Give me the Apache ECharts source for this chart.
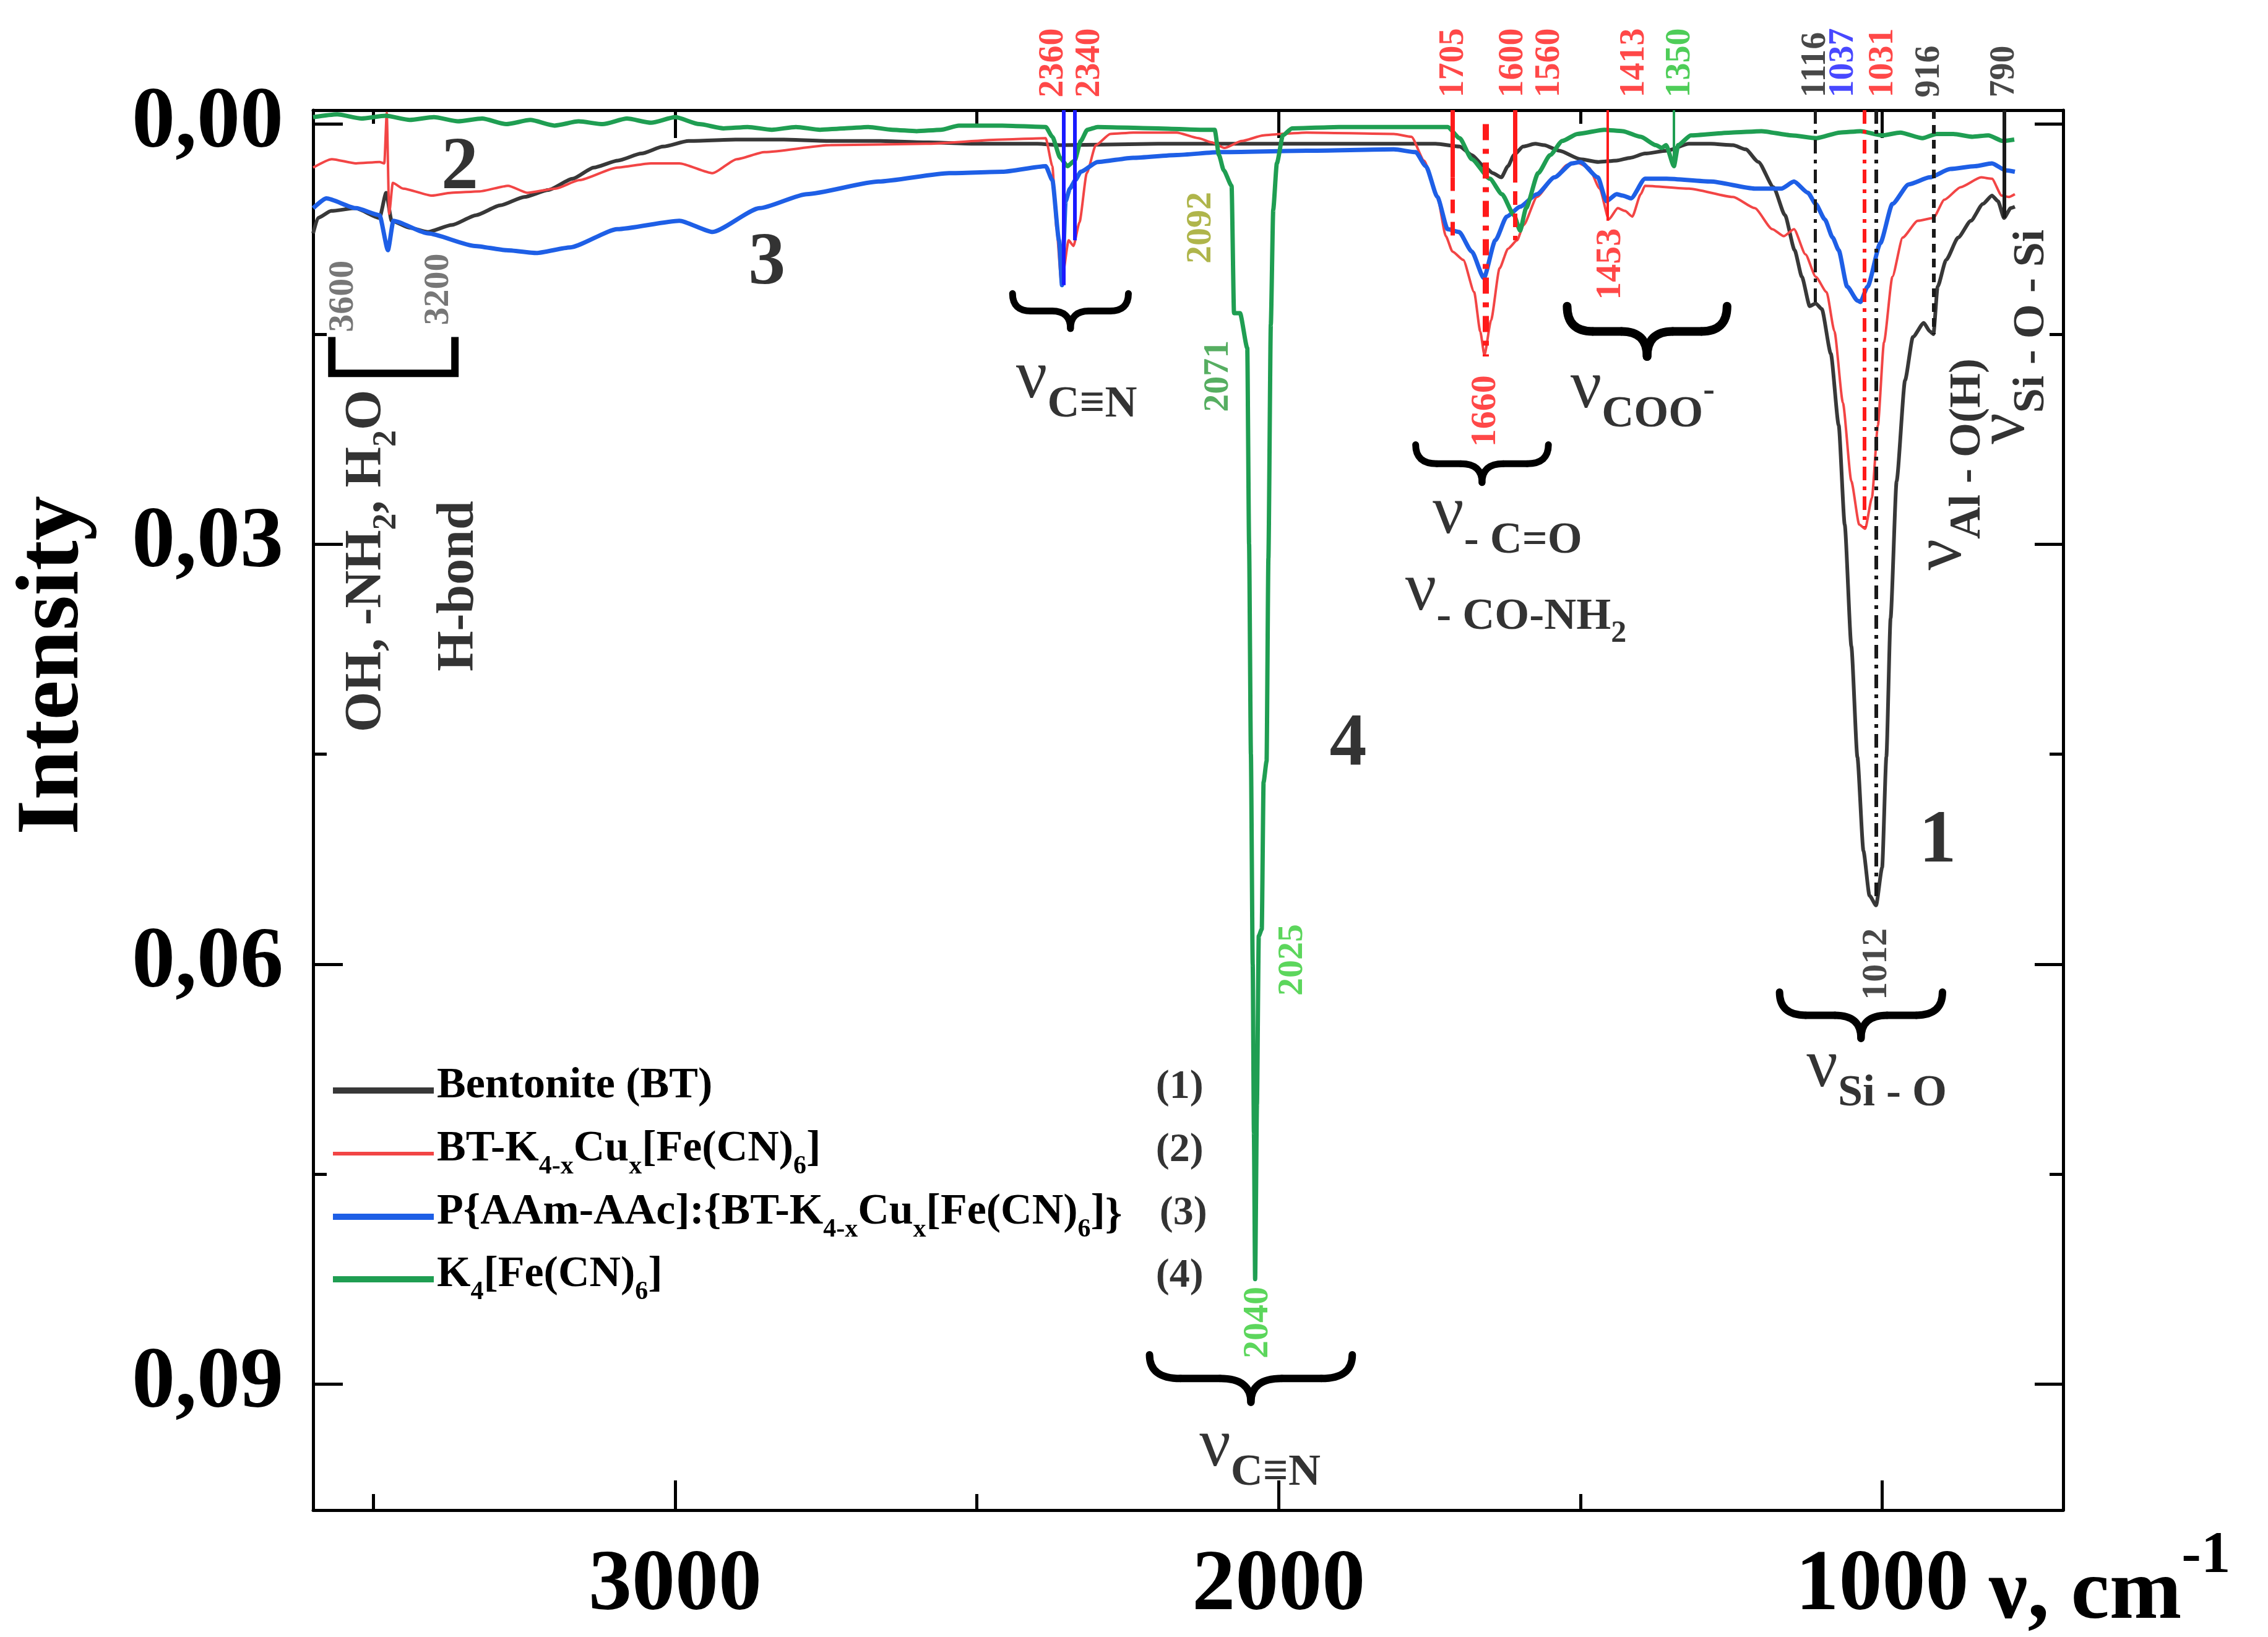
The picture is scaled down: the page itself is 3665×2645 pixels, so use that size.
<!DOCTYPE html>
<html>
<head>
<meta charset="utf-8">
<script src="https://cdn.jsdelivr.net/npm/echarts@6/dist/echarts.min.js"></script>
<style>
html, body { margin: 0; padding: 0; background: #fff; }
#chart { width: 3665px; height: 2645px; }
</style>
</head>
<body>
<div id="chart"></div>
<script>
var FONT = 'Liberation Serif';
var RED = '#ff1a1a', GREEN = '#22c12e', BLUE = '#1a1aff', DARK = '#1a1a1a';

// axis ticks
var waveMajor = [1000, 2000, 3000];
var waveMinor = [1500, 2500, 3500];
var intMajor = [0, 0.03, 0.06, 0.09];
var intMinor = [0.015, 0.045, 0.075];

var seriesNames = ['Bentonite (BT)', 'BT-K4-xCux[Fe(CN)6]', 'P{AAm-AAc]:{BT-K4-xCux[Fe(CN)6]}', 'K4[Fe(CN)6]'];
var seriesColors = ['#383838', '#f24545', '#1e5fe6', '#1f9e52'];
var seriesWidths = [6, 4, 7, 7];

// spectra: [wavenumber, intensity]
var bentonite = [
  [3600, 0.0078], [3592, 0.0067], [3570, 0.0062], [3530, 0.0060], [3490, 0.0067], [3479, 0.0049], [3470, 0.0069],
  [3440, 0.0074], [3410, 0.0077], [3370, 0.0072], [3330, 0.0065], [3290, 0.0058], [3250, 0.0052], [3210, 0.0047],
  [3170, 0.0039], [3135, 0.0031], [3095, 0.0026], [3056, 0.0021], [3020, 0.0016], [2978, 0.0012], [2900, 0.0011],
  [2820, 0.0011], [2740, 0.0012], [2660, 0.0012], [2580, 0.0013], [2500, 0.0014], [2400, 0.0014], [2360, 0.0015],
  [2200, 0.0014], [2100, 0.0014], [2000, 0.0014], [1900, 0.0014], [1800, 0.0014], [1740, 0.0014], [1700, 0.0016],
  [1680, 0.0022], [1660, 0.0030], [1645, 0.0035], [1631, 0.0038], [1620, 0.0030], [1610, 0.0022], [1595, 0.0016],
  [1575, 0.0014], [1560, 0.0015], [1535, 0.0019], [1500, 0.0025], [1470, 0.0027], [1440, 0.0026], [1417, 0.0024],
  [1393, 0.0021], [1357, 0.0019], [1320, 0.0014], [1284, 0.0014], [1247, 0.0015], [1226, 0.0018], [1205, 0.0027],
  [1180, 0.0045], [1161, 0.0065], [1145, 0.0090], [1133, 0.0109], [1120, 0.0130], [1110, 0.0128], [1100, 0.0132],
  [1085, 0.0164], [1072, 0.0215], [1062, 0.0286], [1051, 0.0373], [1041, 0.0452], [1031, 0.0519], [1021, 0.0551],
  [1010, 0.0558], [1000, 0.0531], [993, 0.0452], [986, 0.0353], [976, 0.0255], [962, 0.0183], [949, 0.0152],
  [931, 0.0142], [921, 0.0148], [915, 0.0150], [908, 0.0116], [894, 0.0097], [874, 0.0081], [853, 0.0069],
  [833, 0.0057], [818, 0.0051], [808, 0.0055], [798, 0.0067], [787, 0.0060], [780, 0.0059]
];
var btHexacyanoferrate = [
  [3600, 0.0031], [3569, 0.0025], [3529, 0.0028], [3490, 0.0027], [3482, 0.0028], [3478, -0.0008], [3474, 0.0064],
  [3468, 0.0042], [3451, 0.0046], [3403, 0.0051], [3371, 0.0049], [3324, 0.0048], [3277, 0.0044], [3245, 0.0049],
  [3198, 0.0046], [3159, 0.0040], [3096, 0.0031], [3040, 0.0028], [2993, 0.0028], [2938, 0.0035], [2898, 0.0025],
  [2852, 0.0020], [2743, 0.0015], [2585, 0.0014], [2458, 0.0011], [2386, 0.0010], [2375, 0.0030], [2368, 0.0075],
  [2360, 0.0114], [2348, 0.0083], [2340, 0.0087], [2330, 0.0070], [2318, 0.0035], [2303, 0.0015], [2279, 0.0007],
  [2241, 0.0006], [2169, 0.0006], [2133, 0.0010], [2111, 0.0013], [2090, 0.0017], [2061, 0.0012], [2025, 0.0008],
  [1997, 0.0007], [1954, 0.0006], [1809, 0.0007], [1780, 0.0009], [1759, 0.0026], [1737, 0.0052], [1723, 0.0080],
  [1712, 0.0091], [1694, 0.0097], [1676, 0.0120], [1666, 0.0148], [1659, 0.0165], [1648, 0.0140], [1634, 0.0103],
  [1620, 0.0089], [1605, 0.0083], [1594, 0.0072], [1572, 0.0052], [1543, 0.0038], [1522, 0.0029], [1507, 0.0027],
  [1486, 0.0031], [1468, 0.0046], [1453, 0.0068], [1438, 0.0060], [1426, 0.0062], [1414, 0.0066], [1400, 0.0050],
  [1393, 0.0044], [1320, 0.0046], [1247, 0.0052], [1211, 0.0060], [1182, 0.0075], [1163, 0.0080], [1146, 0.0075],
  [1127, 0.0093], [1110, 0.0109], [1092, 0.0120], [1079, 0.0148], [1065, 0.0199], [1051, 0.0255], [1038, 0.0286],
  [1028, 0.0289], [1017, 0.0267], [1007, 0.0215], [997, 0.0156], [983, 0.0109], [966, 0.0081], [941, 0.0069],
  [915, 0.0067], [897, 0.0054], [870, 0.0045], [836, 0.0038], [818, 0.0039], [802, 0.0051], [790, 0.0052], [780, 0.0050]
];
var hydrogelComposite = [
  [3600, 0.0060], [3578, 0.0053], [3529, 0.0060], [3490, 0.0065], [3476, 0.0090], [3467, 0.0069], [3410, 0.0078],
  [3332, 0.0087], [3280, 0.0090], [3230, 0.0092], [3174, 0.0088], [3096, 0.0075], [2993, 0.0069], [2938, 0.0077],
  [2860, 0.0060], [2782, 0.0050], [2663, 0.0041], [2546, 0.0035], [2458, 0.0034], [2386, 0.0030], [2375, 0.0040],
  [2364, 0.0083], [2359, 0.0115], [2353, 0.0055], [2346, 0.0046], [2337, 0.0040], [2328, 0.0034], [2300, 0.0027],
  [2241, 0.0024], [2169, 0.0022], [2097, 0.0020], [1954, 0.0019], [1809, 0.0018], [1773, 0.0020], [1756, 0.0030],
  [1737, 0.0052], [1720, 0.0075], [1701, 0.0077], [1680, 0.0091], [1660, 0.0110], [1641, 0.0083], [1622, 0.0066],
  [1600, 0.0059], [1572, 0.0050], [1543, 0.0038], [1514, 0.0028], [1500, 0.0027], [1471, 0.0038], [1457, 0.0055],
  [1440, 0.0050], [1430, 0.0051], [1416, 0.0053], [1393, 0.0039], [1357, 0.0039], [1284, 0.0041], [1211, 0.0046],
  [1167, 0.0046], [1146, 0.0041], [1123, 0.0049], [1110, 0.0057], [1095, 0.0068], [1082, 0.0081], [1072, 0.0090],
  [1058, 0.0116], [1041, 0.0126], [1036, 0.0127], [1024, 0.0116], [1003, 0.0085], [983, 0.0057], [956, 0.0043],
  [921, 0.0038], [887, 0.0032], [846, 0.0030], [818, 0.0028], [795, 0.0033], [780, 0.0034]
];
var potassiumFerrocyanide = [
  [3600, -0.0005], [3560, -0.0007], [3520, -0.0004], [3480, -0.0006], [3440, -0.0003], [3400, -0.0005], [3360, -0.0002],
  [3320, -0.0004], [3280, 0.0000], [3240, -0.0003], [3200, 0.0001], [3160, -0.0002], [3120, 0.0000], [3080, -0.0004],
  [3040, -0.0001], [3000, -0.0005], [2960, 0.0000], [2920, 0.0003], [2880, 0.0002], [2840, 0.0004], [2800, 0.0002],
  [2760, 0.0004], [2720, 0.0003], [2680, 0.0002], [2640, 0.0004], [2600, 0.0005], [2560, 0.0004], [2530, 0.0001],
  [2458, 0.0001], [2386, 0.0002], [2375, 0.0009], [2362, 0.0024], [2350, 0.0030], [2338, 0.0026], [2328, 0.0012],
  [2317, 0.0004], [2300, 0.0002], [2200, 0.0003], [2130, 0.0004], [2106, 0.0004], [2099, 0.0022], [2091, 0.0033],
  [2078, 0.0044], [2074, 0.0135], [2064, 0.0135], [2052, 0.0160], [2049, 0.0300], [2046, 0.0450], [2043, 0.0600],
  [2041, 0.0720], [2039, 0.0825], [2036, 0.0700], [2033, 0.0580], [2028, 0.0575], [2025, 0.0470], [2020, 0.0455],
  [2017, 0.0310], [2013, 0.0143], [2009, 0.0061], [2003, 0.0028], [1993, 0.0008], [1978, 0.0003], [1900, 0.0002],
  [1800, 0.0002], [1720, 0.0002], [1700, 0.0010], [1680, 0.0025], [1650, 0.0039], [1630, 0.0050], [1610, 0.0065],
  [1600, 0.0076], [1590, 0.0060], [1570, 0.0035], [1550, 0.0022], [1530, 0.0012], [1505, 0.0007], [1460, 0.0004],
  [1430, 0.0005], [1400, 0.0009], [1375, 0.0015], [1365, 0.0017], [1358, 0.0015], [1345, 0.0030], [1338, 0.0015],
  [1317, 0.0008], [1250, 0.0006], [1200, 0.0005], [1150, 0.0008], [1109, 0.0010], [1070, 0.0006], [1036, 0.0005],
  [1000, 0.0008], [970, 0.0006], [933, 0.0010], [910, 0.0007], [882, 0.0007], [850, 0.0009], [824, 0.0008],
  [800, 0.0012], [781, 0.0011]
];
var spectra = [bentonite, btHexacyanoferrate, hydrogelComposite, potassiumFerrocyanide];

// annotations
var topTags = [
  ['2360', 2373, RED], ['2340', 2312, RED], ['1705', 1710, RED], ['1600', 1611, RED], ['1560', 1551, RED],
  ['1413', 1410, RED], ['1350', 1334, GREEN], ['1116', 1110, DARK], ['1037', 1063, BLUE], ['1031', 998, RED],
  ['916', 921, DARK], ['790', 797, DARK]
];
var peakTags = [
  ['3600', 3550, 0.0123, '#555555'], ['3200', 3392, 0.0118, '#555555'],
  ['2092', 2128, 0.0074, '#9ba21e'], ['2071', 2100, 0.0180, '#2c9a3a'],
  ['2025', 1977, 0.0597, '#33cc33'], ['2040', 2034, 0.0856, '#33cc33'],
  ['1660', 1657, 0.0205, RED], ['1453', 1450, 0.0100, RED], ['1012', 1009, 0.0600, DARK]
];
var curveNumbers = [['1', 908, 0.0513], ['2', 3357, 0.0032], ['3', 2848, 0.0100], ['4', 1885, 0.0444]];
var legendNumbers = [['(1)', 2164, 0.0688], ['(2)', 2164, 0.0733], ['(3)', 2158, 0.0778], ['(4)', 2164, 0.0823]];
var bandLabels = [
  ['{nu|ν}{sub|C≡N}', 2335, 0.0187, 0],
  ['{nu|ν}{sub|C≡N}', 2031, 0.0950, 0],
  ['{nu|ν}{sub|- C=O}', 1621, 0.0284, 0],
  ['{nu2|ν}{sub2|- CO-NH}{ss|2}', 1607, 0.0342, 0],
  ['{nu|ν}{sub|COO}{sup|-}', 1397, 0.0194, 0],
  ['{nu|ν}{sub|Si - O}', 1009, 0.0679, 0],
  ['{nu|ν}{sub|Al - O(H)}', 889, 0.0243, 90],
  ['{nu|ν}{sub|Si - O - Si}', 784, 0.0152, 90],
  ['{t|OH, -NH}{ts|2}{t|, H}{ts|2}{t|O}', 3502, 0.0312, 90],
  ['{t|H-bond}', 3349, 0.0330, 90]
];
// [wavenumber, from, to, color, width, dash]
var guideLines = [
  [2356, -0.001, 0.0115, BLUE, 6, 'solid'],
  [2338, -0.001, 0.0083, BLUE, 6, 'solid'],
  [1712, -0.001, 0.0038, RED, 7, 'solid'],
  [1712, 0.0038, 0.0085, RED, 7, [22, 14]],
  [1657, 0.0000, 0.0166, RED, 10, [26, 14, 8, 14]],
  [1608, -0.001, 0.0032, RED, 7, 'solid'],
  [1608, 0.0032, 0.0083, RED, 7, [22, 14]],
  [1455, -0.001, 0.0069, RED, 4, 'solid'],
  [1414, -0.0013, 0.0066, RED, 4, 'solid'],
  [1345, -0.001, 0.0030, '#1f9e52', 4, 'solid'],
  [1111, -0.001, 0.0130, DARK, 5, [22, 10, 6, 10]],
  [1029, -0.001, 0.0288, RED, 6, [22, 10, 6, 10]],
  [1010, -0.001, 0.0556, DARK, 6, [22, 10, 6, 10]],
  [915, -0.001, 0.0150, DARK, 6, [14, 10]],
  [798, -0.001, 0.0067, DARK, 6, 'solid']
];
// [from, to, tips, point, thickness]
var braces = [
  [2441, 2249, 0.0121, 0.0146, 11],
  [2214, 1878, 0.0879, 0.0913, 12],
  [1773, 1553, 0.0229, 0.0256, 11],
  [1522, 1257, 0.0130, 0.0166, 14],
  [1170, 900, 0.0620, 0.0653, 12]
];
var bracket = [3569, 3365, 0.0152, 0.0178];

function tok(size, pad, bold) {
  return { fontFamily: FONT, fontSize: size, fontWeight: bold ? 'bold' : 'normal', color: '#000',
           verticalAlign: 'bottom', padding: [0, 0, pad, 0] };
}
var richText = {
  nu: tok(112, 22, false),
  nu2: tok(112, 38, false),
  sub: tok(72, 0, true),
  sub2: tok(72, 16, true),
  ss: tok(50, 0, true),
  sup: tok(56, 46, true),
  t: tok(84, 16, true),
  ts: tok(54, 0, true)
};

var labelData = [];
topTags.forEach(function (d) {
  labelData.push({ value: [d[1], -0.001], label: { show: true, formatter: d[0], position: 'top', distance: 20,
    rotate: 90, align: 'left', verticalAlign: 'middle', color: d[2], fontSize: 56, fontWeight: 'bold', fontFamily: FONT } });
});
peakTags.forEach(function (d) {
  labelData.push({ value: [d[1], d[2]], label: { show: true, formatter: d[0], position: 'inside',
    rotate: 90, align: 'center', verticalAlign: 'middle', color: d[3], fontSize: 58, fontWeight: 'bold', fontFamily: FONT } });
});
curveNumbers.forEach(function (d) {
  labelData.push({ value: [d[1], d[2]], label: { show: true, formatter: d[0], position: 'inside',
    align: 'center', verticalAlign: 'middle', color: '#000', fontSize: 120, fontWeight: 'bold', fontFamily: FONT } });
});
legendNumbers.forEach(function (d) {
  labelData.push({ value: [d[1], d[2]], label: { show: true, formatter: d[0], position: 'inside',
    align: 'center', verticalAlign: 'middle', color: '#000', fontSize: 66, fontWeight: 'bold', fontFamily: FONT } });
});
bandLabels.forEach(function (d) {
  labelData.push({ value: [d[1], d[2]], label: { show: true, formatter: d[0], position: 'inside',
    rotate: d[3], align: 'center', verticalAlign: 'middle', rich: richText } });
});

var markLines = guideLines.map(function (g) {
  return [
    { coord: [g[0], g[1]], lineStyle: { color: g[3], width: g[4], type: g[5] } },
    { coord: [g[0], g[2]] }
  ];
});

function tickAxis(pos, isX, values, len, showLine) {
  return {
    type: 'value', position: pos, inverse: true,
    min: isX ? 700 : -0.001, max: isX ? 3600 : 0.099,
    axisLine: { show: showLine, onZero: false, lineStyle: { color: '#000', width: 5 } },
    axisTick: { show: true, inside: true, length: len, customValues: values, lineStyle: { color: '#000', width: 5 } },
    axisLabel: { show: false },
    splitLine: { show: false }
  };
}

var xBottom = tickAxis('bottom', true, waveMajor, 48, true);
xBottom.axisLabel = { show: true, customValues: waveMajor, margin: 54, color: '#000',
  fontFamily: FONT, fontWeight: 'bold', fontSize: 140,
  formatter: function (v) { return String(v); } };
var yLeft = tickAxis('left', false, intMajor, 48, true);
yLeft.axisLabel = { show: true, customValues: intMajor, margin: 48, color: '#000',
  fontFamily: FONT, fontWeight: 'bold', fontSize: 140,
  formatter: function (v) { return v.toFixed(2).replace('.', ','); } };

var legendRich = {
  m: { fontFamily: FONT, fontSize: 70, fontWeight: 'bold', color: '#000', verticalAlign: 'bottom', padding: [0, 0, 14, 0] },
  s: { fontFamily: FONT, fontSize: 42, fontWeight: 'bold', color: '#000', verticalAlign: 'bottom' }
};
var legendText = [
  '{m|Bentonite (BT)}',
  '{m|BT-K}{s|4-x}{m|Cu}{s|x}{m|[Fe(CN)}{s|6}{m|]}',
  '{m|P{AAm-AAc]:{BT-K}{s|4-x}{m|Cu}{s|x}{m|[Fe(CN)}{s|6}{m|]}}',
  '{m|K}{s|4}{m|[Fe(CN)}{s|6}{m|]}'
];
var legendCenters = [1757, 1859, 1961, 2062];

var myChart = echarts.init(document.getElementById('chart'));
var option = {
  animation: false,
  backgroundColor: '#fff',
  grid: { left: 506, right: 331, top: 178, bottom: 205, containLabel: false, outerBoundsMode: 'none' },
  xAxis: [xBottom, tickAxis('bottom', true, waveMinor, 26, false),
          tickAxis('top', true, waveMajor, 45, true), tickAxis('top', true, waveMinor, 22, false)],
  yAxis: [yLeft, tickAxis('left', false, intMinor, 22, false),
          tickAxis('right', false, intMajor, 46, true), tickAxis('right', false, intMinor, 22, false)],
  legend: seriesNames.map(function (n, i) {
    return {
      data: [n], left: 533, top: legendCenters[i] - 42, orient: 'vertical', selectedMode: false,
      icon: 'rect', itemWidth: 163, itemHeight: i === 1 ? 6 : 10,
      textStyle: { fontFamily: FONT, fontSize: 70, fontWeight: 'bold', color: '#000', rich: legendRich },
      formatter: function () { return legendText[i]; }
    };
  }),
  graphic: [
    { type: 'text', x: 88, y: 1075, rotation: Math.PI / 2,
      style: { text: 'Intensity', fontFamily: FONT, fontWeight: 'bold', fontSize: 145, fill: '#000',
               align: 'center', verticalAlign: 'middle' } },
    { type: 'text', x: 3214, y: 2648,
      style: { text: '{a|ν, cm}{b|-1}', verticalAlign: 'bottom', align: 'left',
               rich: { a: { fontFamily: FONT, fontWeight: 'bold', fontSize: 140, fill: '#000', verticalAlign: 'bottom' },
                       b: { fontFamily: FONT, fontWeight: 'bold', fontSize: 95, fill: '#000', verticalAlign: 'bottom',
                            padding: [0, 0, 85, 0] } } } }
  ],
  series: spectra.map(function (d, i) {
    return {
      name: seriesNames[i], type: 'line', data: d, xAxisIndex: 0, yAxisIndex: 0,
      showSymbol: false, symbol: 'none', smooth: 0.2, smoothMonotone: 'x',
      itemStyle: { color: seriesColors[i] },
      lineStyle: { color: seriesColors[i], width: seriesWidths[i] }
    };
  }).concat([
    {
      type: 'custom', xAxisIndex: 0, yAxisIndex: 0, clip: false, silent: true, data: braces,
      renderItem: function (params, api) {
        var a = api.coord([api.value(0), api.value(2)]);
        var b = api.coord([api.value(1), api.value(3)]);
        var xl = Math.min(a[0], b[0]), xr = Math.max(a[0], b[0]);
        var y0 = a[1], yb = b[1], ym = y0 + (yb - y0) * 0.5, xm = (xl + xr) / 2;
        var r = Math.min((xr - xl) * 0.16, 50);
        var st = { stroke: '#000', lineWidth: api.value(4), fill: 'none', lineCap: 'round' };
        return { type: 'group', children: [
          { type: 'bezierCurve', shape: { x1: xl, y1: y0, cpx1: xl, cpy1: ym, x2: xl + r, y2: ym }, style: st },
          { type: 'line', shape: { x1: xl + r, y1: ym, x2: xm - r, y2: ym }, style: st },
          { type: 'bezierCurve', shape: { x1: xm - r, y1: ym, cpx1: xm, cpy1: ym, x2: xm, y2: yb }, style: st },
          { type: 'bezierCurve', shape: { x1: xr, y1: y0, cpx1: xr, cpy1: ym, x2: xr - r, y2: ym }, style: st },
          { type: 'line', shape: { x1: xr - r, y1: ym, x2: xm + r, y2: ym }, style: st },
          { type: 'bezierCurve', shape: { x1: xm + r, y1: ym, cpx1: xm, cpy1: ym, x2: xm, y2: yb }, style: st }
        ] };
      }
    },
    {
      type: 'custom', xAxisIndex: 0, yAxisIndex: 0, clip: false, silent: true, data: [bracket],
      renderItem: function (params, api) {
        var p1 = api.coord([api.value(0), api.value(2)]);
        var p2 = api.coord([api.value(0), api.value(3)]);
        var p3 = api.coord([api.value(1), api.value(3)]);
        var p4 = api.coord([api.value(1), api.value(2)]);
        return { type: 'polyline', shape: { points: [p1, p2, p3, p4] },
                 style: { stroke: '#000', lineWidth: 12, fill: 'none', lineJoin: 'miter', lineCap: 'butt' } };
      }
    },
    {
      type: 'scatter', xAxisIndex: 0, yAxisIndex: 0, clip: false, silent: true,
      symbolSize: 1, itemStyle: { color: 'rgba(0,0,0,0)' },
      data: labelData,
      markLine: { silent: true, symbol: ['none', 'none'], label: { show: false }, animation: false, data: markLines }
    }
  ])
};
if (option && typeof option === "object") {
  myChart.setOption(option, true);
}
</script>
</body>
</html>
